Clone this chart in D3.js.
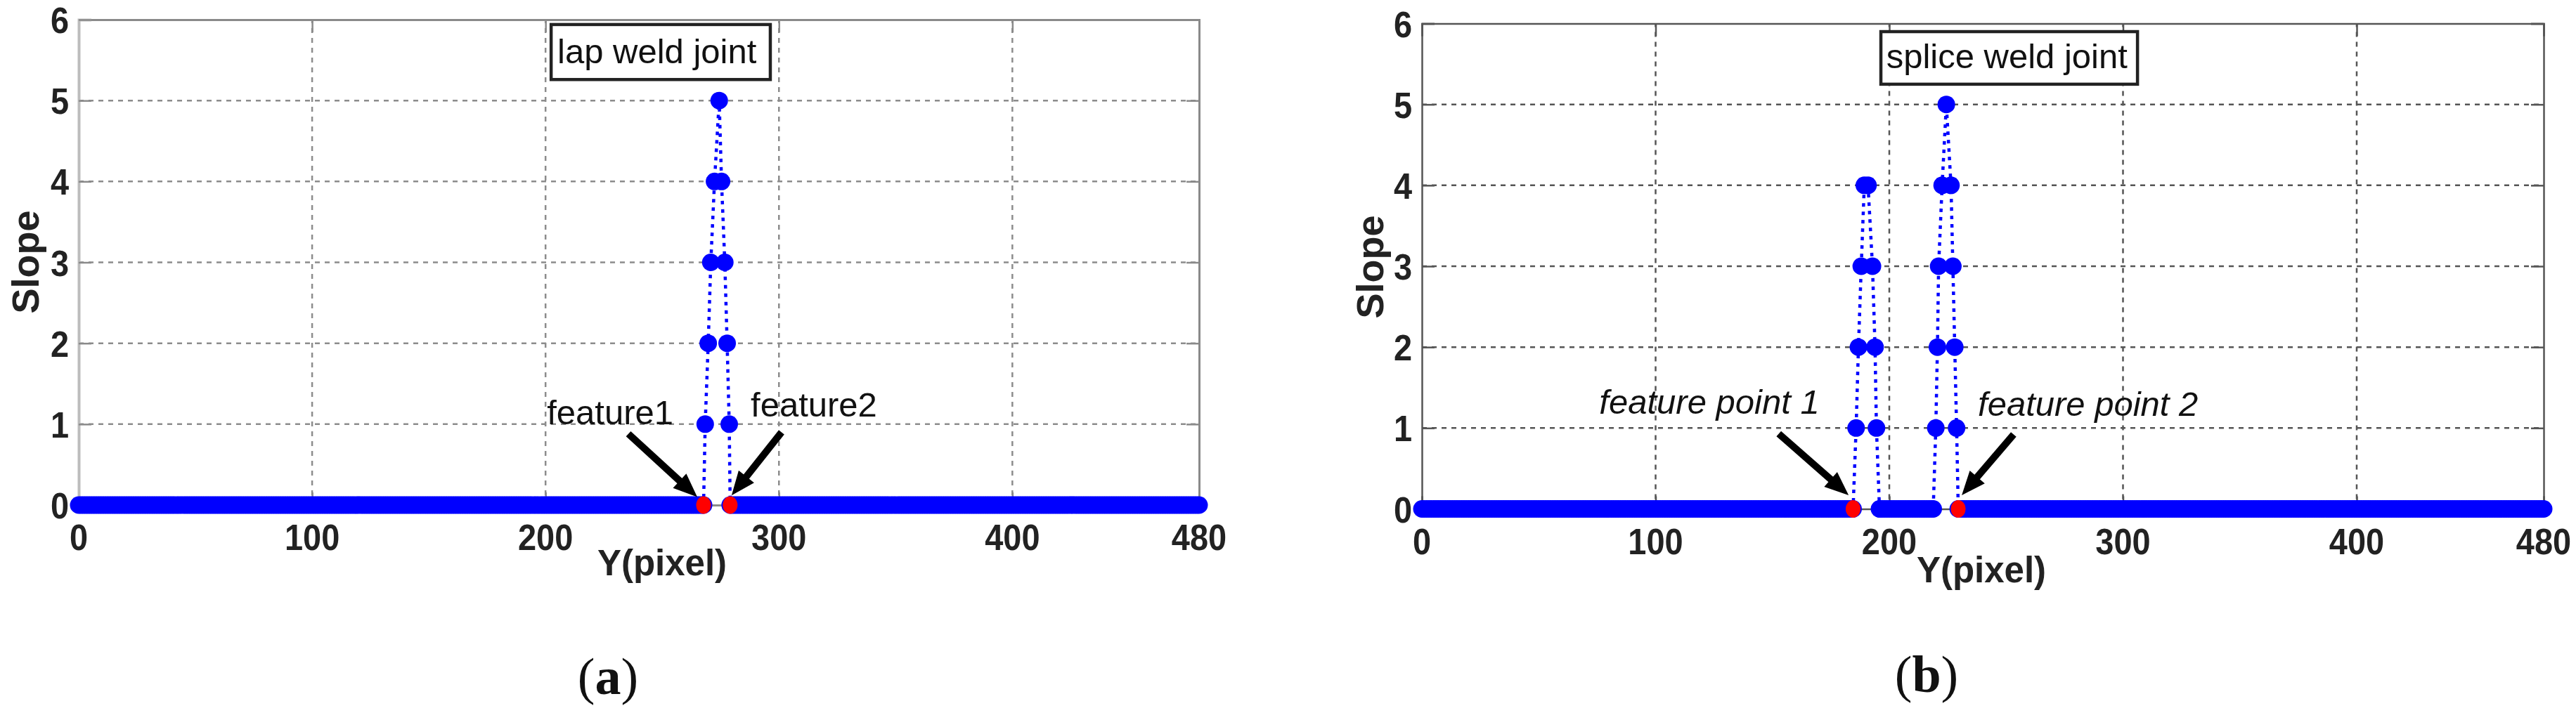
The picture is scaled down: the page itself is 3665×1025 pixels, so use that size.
<!DOCTYPE html>
<html><head><meta charset="utf-8">
<script src="https://cdn.jsdelivr.net/npm/d3@7/dist/d3.min.js"></script>
<style>body{margin:0;background:#fff}svg{display:block}</style>
</head><body>
<svg id="chart" width="3665" height="1025"></svg>
<script>
// ---------------- data ----------------
const xTickValues = [0, 100, 200, 300, 400, 480];
const yTickValues = [0, 1, 2, 3, 4, 5, 6];
const gridXValues = [100, 200, 300, 400];
const gridYValues = [1, 2, 3, 4, 5];

// (a) lap weld joint : runs of pixel columns whose slope is 0, plus the spike
const lapZeroRuns = [[0, 267], [280, 480]];
const lapSpikeX = [267.7, 268.4, 269.7, 270.8, 272.4, 274.4, 275.4, 276.8, 277.8, 278.7, 279.1];
const lapSpikeY = [0, 1, 2, 3, 4, 5, 4, 3, 2, 1, 0];
const lapFeatureX = [267.7, 279.1];
const lapFeatureY = [0, 0];

// (b) splice weld joint
const spliceZeroRuns = [[0, 184], [196, 218], [230, 480]];
const spliceSpikeX = [184.5, 185.8, 186.8, 188.0, 189.3, 190.9, 192.8, 193.9, 194.5, 195.8,
                      218.8, 219.9, 220.6, 221.1, 222.6, 224.4, 226.4, 227.2, 228.0, 228.8, 229.5];
const spliceSpikeY = [0, 1, 2, 3, 4, 4, 3, 2, 1, 0,
                      0, 1, 2, 3, 4, 5, 4, 3, 2, 1, 0];
const spliceFeatureX = [184.5, 229.5];
const spliceFeatureY = [0, 0];

// annotations (data coordinates)
const lapLabels = ["feature1", "feature2"];
const lapLabelPos = [[200.6, 1.0], [287.9, 1.09]];
const lapArrows = [[[235.5, 0.88], [265.0, 0.10]], [[301.1, 0.90], [279.7, 0.12]]];
const lapBoxText = "lap weld joint";

const spliceLabels = ["feature point 1", "feature point 2"];
const spliceLabelPos = [[75.9, 1.18], [237.9, 1.15]];
const spliceArrows = [[[152.7, 0.93], [182.6, 0.17]], [[253.2, 0.92], [231.0, 0.17]]];
const spliceBoxText = "splice weld joint";

const xLabel = "Y(pixel)";
const yLabel = "Slope";

// ---------------- drawing ----------------
const svg = d3.select("#chart");
svg.append("rect").attr("width", 3665).attr("height", 1025).attr("fill", "#fff");

function buildSeries(runs, sx, sy) {
  const pts = [];
  runs.forEach(r => d3.range(r[0], r[1] + 1).forEach(x => pts.push({x, y: 0})));
  sx.forEach((x, i) => pts.push({x, y: sy[i]}));
  pts.sort((a, b) => a.x - b.x);
  return pts;
}

function condense(sel, k) {
  sel.each(function () {
    const w = this.getComputedTextLength();
    d3.select(this).attr("textLength", w * k).attr("lengthAdjust", "spacingAndGlyphs");
  });
}

function drawPanel(cfg) {
  const x = d3.scaleLinear().domain([0, 480]).range([cfg.left, cfg.right]);
  const y = d3.scaleLinear().domain([0, 6]).range([cfg.bottom, cfg.top]);
  const g = svg.append("g");

  // grid
  g.append("g").selectAll("line").data(gridXValues).join("line")
    .attr("x1", d => x(d)).attr("x2", d => x(d)).attr("y1", y(0)).attr("y2", y(6))
    .attr("stroke", cfg.gridColor).attr("stroke-width", 2.5).attr("stroke-dasharray", "7,7");
  g.append("g").selectAll("line").data(gridYValues).join("line")
    .attr("y1", d => y(d)).attr("y2", d => y(d)).attr("x1", x(0)).attr("x2", x(480))
    .attr("stroke", cfg.gridColor).attr("stroke-width", 2.5).attr("stroke-dasharray", "7,7");

  // axes (box with inward ticks)
  const axB = d3.axisBottom(x).tickValues(xTickValues).tickSize(-18).tickFormat("");
  const axT = d3.axisTop(x).tickValues(xTickValues).tickSize(-18).tickFormat("");
  const axL = d3.axisLeft(y).tickValues(yTickValues).tickSize(-18).tickFormat("");
  const axR = d3.axisRight(y).tickValues(yTickValues).tickSize(-18).tickFormat("");
  [[axB, `translate(0,${y(0)})`], [axT, `translate(0,${y(6)})`],
   [axL, `translate(${x(0)},0)`], [axR, `translate(${x(480)},0)`]].forEach(([ax, tr], i) => {
    const a = g.append("g").attr("transform", tr).call(ax);
    a.select(".domain").attr("stroke", i === 2 ? cfg.leftAxisColor : cfg.axisColor)
      .attr("stroke-width", i === 2 ? cfg.leftAxisWidth : cfg.axisWidth);
    a.selectAll(".tick line").attr("stroke", cfg.axisColor).attr("stroke-width", 2.5);
  });

  // tick labels
  const xt = g.append("g").selectAll("text").data(xTickValues).join("text")
    .attr("x", d => x(d)).attr("y", y(0) + 64).attr("text-anchor", "middle")
    .attr("font-family", "Liberation Sans, Arial, sans-serif").attr("font-weight", "bold")
    .attr("font-size", 51).attr("fill", "#222").text(d => d);
  const yt = g.append("g").selectAll("text").data(yTickValues).join("text")
    .attr("x", x(0) - 14).attr("y", d => y(d) + 19).attr("text-anchor", "end")
    .attr("font-family", "Liberation Sans, Arial, sans-serif").attr("font-weight", "bold")
    .attr("font-size", 51).attr("fill", "#222").text(d => d);
  condense(xt, 0.92);
  condense(yt, 0.92);

  // axis titles
  g.append("text").attr("x", cfg.xLabelX).attr("y", y(0) + cfg.xLabelDy)
    .attr("text-anchor", "middle").attr("font-family", "Liberation Sans, Arial, sans-serif")
    .attr("font-weight", "bold").attr("font-size", 51).attr("fill", "#222").text(xLabel);
  g.append("text").attr("transform", `translate(${cfg.yLabelX},${cfg.yLabelY}) rotate(-90)`)
    .attr("text-anchor", "middle").attr("font-family", "Liberation Sans, Arial, sans-serif")
    .attr("font-weight", "bold").attr("font-size", 54).attr("fill", "#222").text(yLabel);

  // data line + markers
  const pts = buildSeries(cfg.runs, cfg.spikeX, cfg.spikeY);
  const segs = [];
  let cur = [pts[0]];
  for (let i = 1; i < pts.length; i++) {
    const p = pts[i], q = pts[i - 1];
    if (p.y === 0 && q.y === 0 && p.x - q.x > 1.01) { segs.push(cur); cur = [p]; }
    else cur.push(p);
  }
  segs.push(cur);
  const line = d3.line().x(d => x(d.x)).y(d => y(d.y));
  g.append("g").selectAll("path").data(segs).join("path")
    .attr("d", line).attr("fill", "none").attr("stroke", "#0000ff")
    .attr("stroke-width", 4.5).attr("stroke-dasharray", "5,7");
  g.append("g").selectAll("circle").data(pts).join("circle")
    .attr("cx", d => x(d.x)).attr("cy", d => y(d.y)).attr("r", 12.5).attr("fill", "#0000ff");

  // feature points
  g.append("g").selectAll("ellipse").data(cfg.featX.map((v, i) => [v, cfg.featY[i]])).join("ellipse")
    .attr("cx", d => x(d[0])).attr("cy", d => y(d[1])).attr("rx", 10.5).attr("ry", 12.5)
    .attr("fill", "#ff0000");

  // arrows
  cfg.arrows.forEach(a => {
    const x1 = x(a[0][0]), y1 = y(a[0][1]), x2 = x(a[1][0]), y2 = y(a[1][1]);
    const ang = Math.atan2(y2 - y1, x2 - x1);
    const hl = 34, hw = 14;
    const bx = x2 - hl * Math.cos(ang), by = y2 - hl * Math.sin(ang);
    g.append("line").attr("x1", x1).attr("y1", y1).attr("x2", bx + 4 * Math.cos(ang)).attr("y2", by + 4 * Math.sin(ang))
      .attr("stroke", "#000").attr("stroke-width", 10);
    const px = -Math.sin(ang), py = Math.cos(ang);
    g.append("polygon").attr("points",
      [[x2, y2], [bx + hw * px, by + hw * py], [bx - hw * px, by - hw * py]].map(p => p.join(",")).join(" "))
      .attr("fill", "#000");
  });

  // feature labels
  g.append("g").selectAll("text").data(cfg.labels).join("text")
    .attr("x", (d, i) => x(cfg.labelPos[i][0])).attr("y", (d, i) => y(cfg.labelPos[i][1]))
    .attr("font-family", "Liberation Sans, Arial, sans-serif").attr("font-size", 49)
    .attr("font-style", cfg.labelItalic ? "italic" : "normal").attr("fill", "#111").text(d => d);

  // text box
  g.append("rect").attr("x", x(cfg.box[0])).attr("y", y(cfg.box[1]))
    .attr("width", x(cfg.box[2]) - x(cfg.box[0])).attr("height", y(cfg.box[3]) - y(cfg.box[1]))
    .attr("fill", "#fff").attr("stroke", "#222").attr("stroke-width", 4.5);
  g.append("text").attr("x", x(cfg.boxTextPos[0])).attr("y", y(cfg.boxTextPos[1]))
    .attr("font-family", "Liberation Sans, Arial, sans-serif").attr("font-size", 49)
    .attr("fill", "#111").text(cfg.boxText);

  // panel caption
  const cap = svg.append("text").attr("x", cfg.capX).attr("y", cfg.capY).attr("text-anchor", "middle")
    .attr("font-family", "Liberation Serif, Times New Roman, serif").attr("font-size", 74).attr("fill", "#111");
  cap.append("tspan").text("(");
  cap.append("tspan").attr("font-weight", "bold").text(cfg.cap);
  cap.append("tspan").text(")");
}

drawPanel({
  left: 112, right: 1706, top: 28, bottom: 719,
  gridColor: "#8c8c8c", axisColor: "#8a8a8a", axisWidth: 3, leftAxisColor: "#bdbdbd", leftAxisWidth: 4,
  runs: lapZeroRuns, spikeX: lapSpikeX, spikeY: lapSpikeY, featX: lapFeatureX, featY: lapFeatureY,
  arrows: lapArrows, labels: lapLabels, labelPos: lapLabelPos, labelItalic: false,
  box: [202.4, 5.94, 296.3, 5.26], boxTextPos: [205.1, 5.46], boxText: lapBoxText,
  xLabelX: 942, xLabelDy: 100, yLabelX: 55, yLabelY: 373,
  cap: "a", capX: 865, capY: 988
});
drawPanel({
  left: 2023, right: 3619, top: 33.5, bottom: 724.5,
  gridColor: "#555", axisColor: "#555", axisWidth: 2.5, leftAxisColor: "#555", leftAxisWidth: 2.5,
  runs: spliceZeroRuns, spikeX: spliceSpikeX, spikeY: spliceSpikeY, featX: spliceFeatureX, featY: spliceFeatureY,
  arrows: spliceArrows, labels: spliceLabels, labelPos: spliceLabelPos, labelItalic: true,
  box: [196.4, 5.90, 306.2, 5.25], boxTextPos: [198.7, 5.45], boxText: spliceBoxText,
  xLabelX: 2819, xLabelDy: 104, yLabelX: 1968, yLabelY: 380,
  cap: "b", capX: 2741, capY: 985
});
</script>
</body></html>
